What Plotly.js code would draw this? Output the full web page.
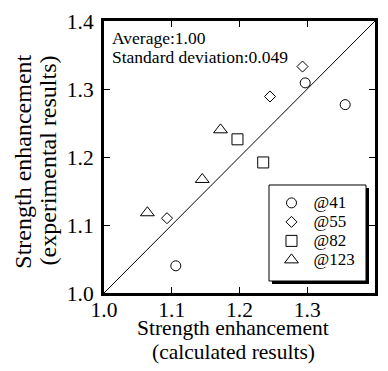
<!DOCTYPE html>
<html>
<head>
<meta charset="utf-8">
<script src="https://cdn.plot.ly/plotly-3.0.1.min.js"></script>
<style>
  html, body { margin: 0; padding: 0; background: #fff; }
  #chart { width: 388px; height: 371px; }
</style>
</head>
<body>
<div id="chart"></div>
<script>
// Strength enhancement: calculated vs experimental, grouped by spacing
const seriesNames = ['@41', '@55', '@82', '@123'];
const seriesSymbols = ['circle-open', 'diamond-open', 'square-open', 'triangle-up-open'];
const seriesSizes = [10, 8.5, 11, 12];

const calc41 = [1.297, 1.356, 1.106];
const exp41  = [1.309, 1.277, 1.040];
const calc55 = [1.293, 1.245, 1.093];
const exp55  = [1.333, 1.289, 1.110];
const calc82 = [1.197, 1.235];
const exp82  = [1.226, 1.192];
const calc123 = [1.172, 1.145, 1.064];
const exp123  = [1.240, 1.167, 1.118];

const tickValues = [1.0, 1.1, 1.2, 1.3, 1.4];
const tickLabels = ['1.0', '1.1', '1.2', '1.3', '1.4'];

const averageRatio = 1.00;
const stdDeviation = 0.049;

const xTitleLines = ['Strength enhancement', '(calculated results)'];
const yTitleLines = ['Strength enhancement', '(experimental results)'];

const xs = [calc41, calc55, calc82, calc123];
const ys = [exp41, exp55, exp82, exp123];

const FONT = 'Liberation Serif, Times New Roman, serif';

const traces = seriesNames.map((name, i) => ({
  type: 'scatter',
  mode: 'markers',
  // legend rows are spaced by the small legend font; the label itself is set at 17px
  name: '<span style="font-size:17px">' + name + '</span>',
  x: xs[i],
  y: ys[i],
  marker: {
    symbol: seriesSymbols[i],
    size: seriesSizes[i],
    color: '#000',
    line: { width: 1, color: '#000' }
  },
  cliponaxis: false
}));

const axisCommon = {
  range: [1.0, 1.4],
  tickvals: tickValues,
  ticktext: tickLabels,
  ticks: 'inside',
  ticklen: 6,
  tickwidth: 1,
  tickcolor: '#000',
  showline: true,
  linewidth: 3,
  linecolor: '#000',
  mirror: 'ticks',
  showgrid: false,
  zeroline: false,
  tickfont: { family: FONT, size: 21.5, color: '#000' },
  fixedrange: true
};

function textNote(text, x, y, size, extra) {
  return Object.assign({
    xref: 'paper', yref: 'paper', x: x, y: y,
    xanchor: 'center', yanchor: 'middle', showarrow: false,
    text: text,
    font: { family: FONT, size: size, color: '#000' }
  }, extra || {});
}

const layout = {
  width: 388,
  height: 371,
  margin: { l: 104, r: 13, t: 21, b: 78 },
  paper_bgcolor: '#fff',
  plot_bgcolor: '#fff',
  font: { family: FONT, color: '#000' },
  showlegend: true,
  xaxis: Object.assign({}, axisCommon, { ticklabelstandoff: -5 }),
  yaxis: Object.assign({}, axisCommon, { ticklabelstandoff: 3 }),
  legend: {
    x: 0.6107,
    y: 0.3846,
    xanchor: 'left',
    yanchor: 'top',
    bgcolor: 'rgba(0,0,0,0)',
    borderwidth: 0,
    itemwidth: 34,
    font: { family: FONT, size: 12, color: '#000' }
  },
  shapes: [
    // 1:1 reference line
    {
      type: 'line', xref: 'x', yref: 'y',
      x0: 1.0, y0: 1.0, x1: 1.4, y1: 1.4,
      line: { color: '#000', width: 1 },
      layer: 'below'
    },
    // legend frame: drop shadow, then the white box
    {
      type: 'rect', xref: 'paper', yref: 'paper',
      x0: 0.6199, x1: 0.9779, y0: 0.0331, y1: 0.3860,
      fillcolor: '#000', line: { width: 0 }, layer: 'above'
    },
    {
      type: 'rect', xref: 'paper', yref: 'paper',
      x0: 0.6089, x1: 0.9668, y0: 0.0441, y1: 0.3971,
      fillcolor: '#fff', line: { width: 1, color: '#000' }, layer: 'above'
    }
  ],
  annotations: [
    textNote('Average:' + averageRatio.toFixed(2), 0.021, 0.9371, 17.5, { xanchor: 'left' }),
    textNote('Standard deviation:' + stdDeviation.toFixed(3), 0.021, 0.866, 17.5, { xanchor: 'left' }),
    // axis titles, one line each
    textNote(xTitleLines[0], 0.476, -0.1283, 21.5),
    textNote(xTitleLines[1], 0.4797, -0.2176, 21.5),
    textNote(yTitleLines[0], -0.3022, 0.4831, 24, { textangle: -90 }),
    textNote(yTitleLines[1], -0.2052, 0.489, 24, { textangle: -90 })
  ]
};

Plotly.newPlot('chart', traces, layout, { displayModeBar: false, staticPlot: true });
</script>
</body>
</html>
